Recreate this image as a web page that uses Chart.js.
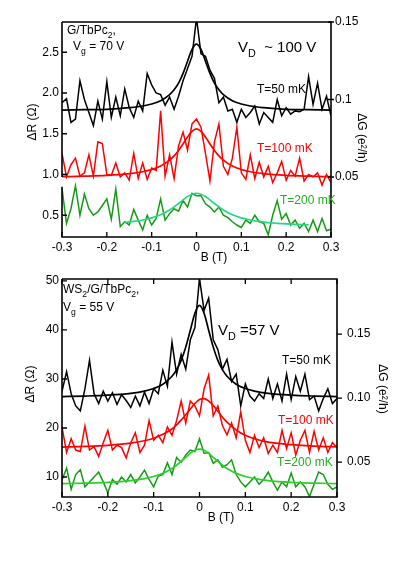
<!DOCTYPE html>
<html>
<head>
<meta charset="utf-8">
<script src="https://cdn.jsdelivr.net/npm/chart.js@4.4.1/dist/chart.umd.min.js"></script>
<style>
  html, body { margin: 0; padding: 0; background: #fff; }
  #wrap { position: relative; width: 397px; height: 567px; }
  canvas { position: absolute; left: 0; top: 0; }
</style>
</head>
<body>
<div id="wrap">
  <canvas id="top" width="397" height="567"></canvas>
  <canvas id="bot" width="397" height="567"></canvas>
</div>
<script>
// field values (T) of the measured traces
const B = [-0.30,-0.29,-0.28,-0.27,-0.26,-0.25,-0.24,-0.23,-0.22,-0.21,
           -0.20,-0.19,-0.18,-0.17,-0.16,-0.15,-0.14,-0.13,-0.12,-0.11,
           -0.10,-0.09,-0.08,-0.07,-0.06,-0.05,-0.04,-0.03,-0.02,-0.01,
           0,0.01,0.02,0.03,0.04,0.05,0.06,0.07,0.08,0.09,
           0.10,0.11,0.12,0.13,0.14,0.15,0.16,0.17,0.18,0.19,
           0.20,0.21,0.22,0.23,0.24,0.25,0.26,0.27,0.28,0.29,0.30];

// field values of the fit curves
const fitB = [-0.30,-0.25,-0.20,-0.15,-0.12,-0.10,-0.08,-0.06,-0.05,-0.04,-0.03,-0.02,-0.01,0,
              0.01,0.02,0.03,0.04,0.05,0.06,0.08,0.10,0.12,0.15,0.20,0.25,0.30];
const gFitB = [-0.16,-0.14,-0.12,-0.10,-0.08,-0.06,-0.04,-0.02,0,0.02,0.04,0.06,0.08,0.10,
               0.12,0.14,0.16,0.18,0.20,0.22,0.25];

// top panel: G/TbPc2, dR (Ohm)
const top50 = [1.88,1.93,1.64,1.68,2.15,1.92,1.76,1.60,1.90,1.68,
               2.14,1.70,1.95,1.72,2.05,1.82,1.70,1.90,1.78,2.24,
               2.10,2.00,1.98,1.85,1.95,1.80,1.96,2.15,2.30,2.45,
               2.92,2.48,2.45,2.28,2.18,1.88,1.95,1.78,1.80,1.64,
               1.80,1.70,1.76,1.84,1.62,1.76,1.70,1.64,1.92,1.72,
               1.82,1.74,1.78,1.77,1.80,2.20,1.86,2.12,1.80,1.96,1.72];
const top100 = [1.26,0.97,1.12,1.20,0.98,1.02,1.24,0.98,1.40,1.38,
                1.00,0.99,1.14,0.97,1.02,0.93,1.26,0.95,1.14,0.94,
                1.08,1.05,1.78,0.98,1.24,0.95,1.35,1.52,1.30,1.62,
                1.68,1.58,1.26,0.92,1.40,1.62,1.10,1.00,1.20,1.58,
                1.02,0.94,1.24,0.95,1.15,0.97,1.10,0.90,1.02,1.16,
                0.93,1.05,0.98,1.20,0.92,1.00,0.97,1.02,0.87,1.00,0.90];
const top200 = [0.83,0.40,0.58,0.86,0.50,0.76,0.58,0.50,0.54,0.62,
                0.70,0.45,0.82,0.36,0.42,0.38,0.57,0.44,0.32,0.50,
                0.38,0.46,0.70,0.44,0.52,0.58,0.55,0.68,0.60,0.77,
                0.74,0.74,0.64,0.60,0.54,0.60,0.50,0.47,0.42,0.38,
                0.35,0.44,0.40,0.50,0.42,0.40,0.26,0.50,0.68,0.45,
                0.52,0.38,0.44,0.34,0.40,0.30,0.44,0.30,0.46,0.31,0.33];
const topFit50 = [1.79,1.795,1.80,1.82,1.84,1.865,1.905,1.98,2.04,2.12,2.24,2.39,2.535,2.60,
                  2.535,2.39,2.24,2.12,2.04,1.98,1.905,1.865,1.84,1.82,1.80,1.795,1.79];
const topFit100 = [0.973,0.979,0.989,1.01,1.034,1.061,1.104,1.176,1.228,1.295,1.375,1.46,1.53,1.56,
                   1.53,1.46,1.375,1.295,1.228,1.176,1.104,1.061,1.034,1.01,0.989,0.979,0.973];
const topFit200 = [0.41,0.424,0.442,0.468,0.507,0.565,0.644,0.729,0.77,0.729,0.644,0.565,0.507,0.468,
                   0.442,0.424,0.41,0.401,0.394,0.389,0.382];

// bottom panel: WS2/G/TbPc2, dR (Ohm)
const bot50 = [27.5,31.5,27.0,24.5,23.5,28.0,33.8,27.0,25.0,27.5,
               25.5,27.2,24.8,26.8,25.6,24.2,26.5,24.5,27.3,25.0,
               28.0,27.0,31.8,28.5,37.5,31.0,35.0,32.0,38.0,40.5,
               50.5,44.0,46.5,38.0,36.0,32.0,34.0,29.5,31.0,24.5,
               29.0,26.5,25.5,27.0,26.0,30.0,26.0,29.0,25.5,31.0,
               25.8,30.5,27.5,31.0,25.8,26.5,23.5,26.0,28.0,25.0,26.0];
const bot100 = [20.2,15.0,17.8,15.5,15.2,20.4,15.5,16.2,14.2,17.0,
                19.5,15.5,16.5,16.0,13.9,17.0,19.0,15.0,16.5,21.5,
                17.5,18.5,17.0,20.2,18.5,21.5,25.5,21.0,25.5,24.5,
                22.5,28.0,30.8,22.5,24.5,20.5,18.6,21.0,18.0,23.3,
                17.5,15.0,18.5,16.0,18.0,14.8,16.5,15.0,19.5,15.8,
                19.0,14.5,17.5,19.5,15.0,19.3,15.5,18.0,15.0,17.0,16.0];
const bot200 = [9.4,11.8,7.5,10.5,11.5,8.0,9.0,10.0,11.0,9.0,
                6.8,9.5,8.5,10.0,9.0,10.5,8.8,10.0,11.4,9.5,
                8.0,10.2,10.5,12.9,10.5,14.0,13.0,14.5,15.5,15.2,
                17.8,14.8,15.0,12.8,13.5,12.0,12.5,13.5,10.5,9.0,
                8.0,9.0,10.0,8.5,9.5,11.0,9.0,7.3,9.0,8.0,
                10.8,8.0,9.0,8.0,6.0,8.5,11.0,10.5,8.5,7.5,8.0];
const botFit50 = [26.42,26.52,26.7,27.07,27.52,28.05,28.93,30.57,31.9,33.8,36.5,39.95,43.4,45.0,
                  43.4,39.95,36.5,33.8,31.9,30.57,28.93,28.05,27.52,27.07,26.7,26.52,26.42];
const botFit100 = [16.1,16.24,16.47,16.9,17.4,17.9,18.7,19.8,20.63,21.6,22.7,23.9,25.0,25.8,
                   26.0,25.5,24.6,23.4,22.2,21.2,19.6,18.5,17.8,17.1,16.6,16.3,16.15];
const botFit200 = [8.64,8.74,8.91,9.27,9.67,10.1,10.74,11.73,12.4,13.17,14.02,14.85,15.47,15.7,
                   15.47,14.85,14.02,13.17,12.4,11.73,10.74,10.1,9.67,9.27,8.91,8.74,8.64];

// ticks
const xTicks = [-0.3,-0.2,-0.1,0,0.1,0.2,0.3];
const xTickLabels = ['-0.3','-0.2','-0.1','0','0.1','0.2','0.3'];
const topLeftTicks = [0.5,1.0,1.5,2.0,2.5];
const topLeftLabels = ['0.5','1.0','1.5','2.0','2.5'];
const topRightTicks = [0.05,0.1,0.15];
const topRightLabels = ['0.05','0.1','0.15'];
const botLeftTicks = [10,20,30,40,50];
const botLeftLabels = ['10','20','30','40','50'];
const botRightTicks = [0.05,0.10,0.15];
const botRightLabels = ['0.05','0.10','0.15'];

const FONT = '"Liberation Sans", Arial, sans-serif';
Chart.defaults.font.family = FONT;
Chart.defaults.font.size = 12;
Chart.defaults.color = '#000';

const RED = '#ff0000';
const GREEN = '#169a16';
const GREEN_LBL = '#1fae1f';

function pts(xs, ys) {
    return xs.map((x, i) => ({x: x, y: ys[i]}));
}

function trace(xs, ys, color) {
    return {data: pts(xs, ys), borderColor: color, borderWidth: 1.5, pointRadius: 0, tension: 0, fill: false};
}

function fit(xs, ys, color) {
    return {data: pts(xs, ys), borderColor: color, borderWidth: 1.7, pointRadius: 0,
            cubicInterpolationMode: 'monotone', fill: false};
}

function fixedTicks(vals, labels) {
    return {
        afterBuildTicks: s => { s.ticks = vals.map(v => ({value: v})); },
        labels: labels
    };
}

// text with sub/superscripts, left aligned at x, vertically centred at y
function rich(ctx, parts, x, y, size, color) {
    ctx.fillStyle = color;
    ctx.textBaseline = 'middle';
    ctx.textAlign = 'left';
    let cx = x;
    for (const p of parts) {
        const s = p[0], m = p[1];
        const fs = m ? size * 0.72 : size;
        ctx.font = fs + 'px ' + FONT;
        const dy = m === 'sub' ? size * 0.38 : (m === 'sup' ? -size * 0.35 : 0);
        ctx.fillText(s, cx, y + dy);
        cx += ctx.measureText(s).width;
    }
}

function rotText(ctx, s, x, y, angle, size) {
    ctx.save();
    ctx.translate(x, y);
    ctx.rotate(angle);
    ctx.font = size + 'px ' + FONT;
    ctx.fillStyle = '#000';
    ctx.textAlign = 'center';
    ctx.textBaseline = 'middle';
    ctx.fillText(s, 0, 0);
    ctx.restore();
}

// frame, inside ticks and labels
function decor(cfg) {
    return {
        id: 'decor',
        afterDraw(chart) {
            const ctx = chart.ctx, a = chart.chartArea, sc = chart.scales;
            ctx.save();
            ctx.strokeStyle = '#000';
            ctx.lineWidth = 1.6;
            ctx.beginPath();
            ctx.moveTo(a.left, a.top);
            ctx.lineTo(a.right, a.top);
            ctx.lineTo(a.right, a.bottom);
            ctx.lineTo(a.left, a.bottom);
            if (cfg.axisBreak) {
                const y0 = sc.y.getPixelForValue(cfg.axisBreak[0]);
                const y1 = sc.y.getPixelForValue(cfg.axisBreak[1]);
                ctx.lineTo(a.left, y0);
                ctx.moveTo(a.left, y1);
            }
            ctx.lineTo(a.left, a.top);
            ctx.stroke();

            ctx.lineWidth = 1.3;
            ctx.beginPath();
            sc.x.ticks.forEach(t => {
                const px = sc.x.getPixelForValue(t.value);
                ctx.moveTo(px, a.bottom); ctx.lineTo(px, a.bottom - 5);
                if (cfg.topTicks) { ctx.moveTo(px, a.top); ctx.lineTo(px, a.top + 5); }
            });
            sc.y.ticks.forEach(t => {
                const py = sc.y.getPixelForValue(t.value);
                ctx.moveTo(a.left, py); ctx.lineTo(a.left + 5, py);
            });
            sc.y2.ticks.forEach(t => {
                const py = sc.y2.getPixelForValue(t.value);
                ctx.moveTo(a.right + cfg.rTick[0], py); ctx.lineTo(a.right + cfg.rTick[1], py);
            });
            ctx.stroke();

            rotText(ctx, 'ΔR (Ω)', cfg.yTitle[0], cfg.yTitle[1], -Math.PI / 2, 12);
            rotText(ctx, 'ΔG (e²/h)', cfg.y2Title[0], cfg.y2Title[1], Math.PI / 2, 12);
            ctx.font = '12px ' + FONT;
            ctx.fillStyle = '#000';
            ctx.textAlign = 'center';
            ctx.textBaseline = 'middle';
            ctx.fillText('B (T)', cfg.xTitle[0], cfg.xTitle[1]);

            cfg.notes.forEach(n => rich(ctx, n.parts, n.x, n.y, n.size, n.color));
            ctx.restore();
        }
    };
}

function makeChart(id, sets, area, yr, y2r, lt, rt, rightPad, cfg) {
    const lft = fixedTicks(lt[0], lt[1]);
    const rgt = fixedTicks(rt[0], rt[1]);
    const xt = fixedTicks(xTicks, xTickLabels);
    return new Chart(document.getElementById(id), {
        type: 'line',
        data: {datasets: sets},
        options: {
            responsive: false,
            devicePixelRatio: 1,
            animation: false,
            events: [],
            layout: {padding: {left: 0, top: area.top, right: 397 - area.right - 40, bottom: 567 - area.bottom - 24}},
            plugins: {legend: {display: false}, tooltip: {enabled: false}},
            scales: {
                x: {
                    type: 'linear', min: -0.3, max: 0.3,
                    grid: {display: false, drawTicks: false}, border: {display: false},
                    afterBuildTicks: xt.afterBuildTicks,
                    afterFit: s => { s.height = 24; },
                    ticks: {padding: 3, autoSkip: false, maxRotation: 0,
                            callback: (v, i) => xt.labels[i]}
                },
                y: {
                    type: 'linear', position: 'left', min: yr[0], max: yr[1],
                    grid: {display: false, drawTicks: false}, border: {display: false},
                    afterBuildTicks: lft.afterBuildTicks,
                    afterFit: s => { s.width = area.left; },
                    ticks: {padding: 3, callback: (v, i) => lft.labels[i]}
                },
                y2: {
                    type: 'linear', position: 'right', min: y2r[0], max: y2r[1],
                    grid: {display: false, drawTicks: false}, border: {display: false},
                    afterBuildTicks: rgt.afterBuildTicks,
                    afterFit: s => { s.width = 40; },
                    ticks: {padding: rightPad, callback: (v, i) => rgt.labels[i]}
                }
            }
        },
        plugins: [decor(cfg)]
    });
}

// top panel
makeChart('top', [
    fit(fitB, topFit50, '#000'),
    fit(fitB, topFit100, RED),
    fit(gFitB, topFit200, '#22d884'),
    trace(B, top50, '#000'),
    trace(B, top100, RED),
    trace(B, top200, GREEN)
], {left: 62, right: 331, top: 22, bottom: 237},
   [0.233, 2.871], [0.0113, 0.15],
   [topLeftTicks, topLeftLabels], [topRightTicks, topRightLabels], 4,
   {
     axisBreak: [0.85, 0.97], topTicks: false, rTick: [-3, 3],
     yTitle: [33, 122], y2Title: [361, 138], xTitle: [214, 258],
     notes: [
       {parts: [['G/TbPc'], ['2', 'sub'], [',']], x: 67, y: 31, size: 12, color: '#000'},
       {parts: [['V'], ['g', 'sub'], [' = 70 V']], x: 73, y: 47, size: 12, color: '#000'},
       {parts: [['V'], ['D', 'sub'], ['  ~ 100 V']], x: 238, y: 48, size: 15, color: '#000'},
       {parts: [['T=50 mK']], x: 257, y: 89.5, size: 12, color: '#000'},
       {parts: [['T=100 mK']], x: 257, y: 149, size: 12, color: RED},
       {parts: [['T=200 mK']], x: 280, y: 201, size: 12, color: GREEN_LBL}
     ]
   });

// bottom panel
makeChart('bot', [
    fit(fitB, botFit50, '#000'),
    fit(fitB, botFit100, RED),
    fit(fitB, botFit200, '#2bd02b'),
    trace(B, bot50, '#000'),
    trace(B, bot100, RED),
    trace(B, bot200, GREEN)
], {left: 62, right: 337, top: 279, bottom: 497},
   [5.92, 50.4], [0.0227, 0.193],
   [botLeftTicks, botLeftLabels], [botRightTicks, botRightLabels], 10,
   {
     axisBreak: null, topTicks: true, rTick: [0, 5],
     yTitle: [31, 384], y2Title: [382, 389], xTitle: [221, 518],
     notes: [
       {parts: [['WS'], ['2', 'sub'], ['/G/TbPc'], ['2', 'sub'], [',']], x: 63, y: 290, size: 12, color: '#000'},
       {parts: [['V'], ['g', 'sub'], [' = 55 V']], x: 63, y: 308, size: 12, color: '#000'},
       {parts: [['V'], ['D', 'sub'], [' =57 V']], x: 218, y: 331, size: 15, color: '#000'},
       {parts: [['T=50 mK']], x: 282, y: 361, size: 12, color: '#000'},
       {parts: [['T=100 mK']], x: 278, y: 421, size: 12, color: RED},
       {parts: [['T=200 mK']], x: 277, y: 463, size: 12, color: GREEN_LBL}
     ]
   });
</script>
</body>
</html>
